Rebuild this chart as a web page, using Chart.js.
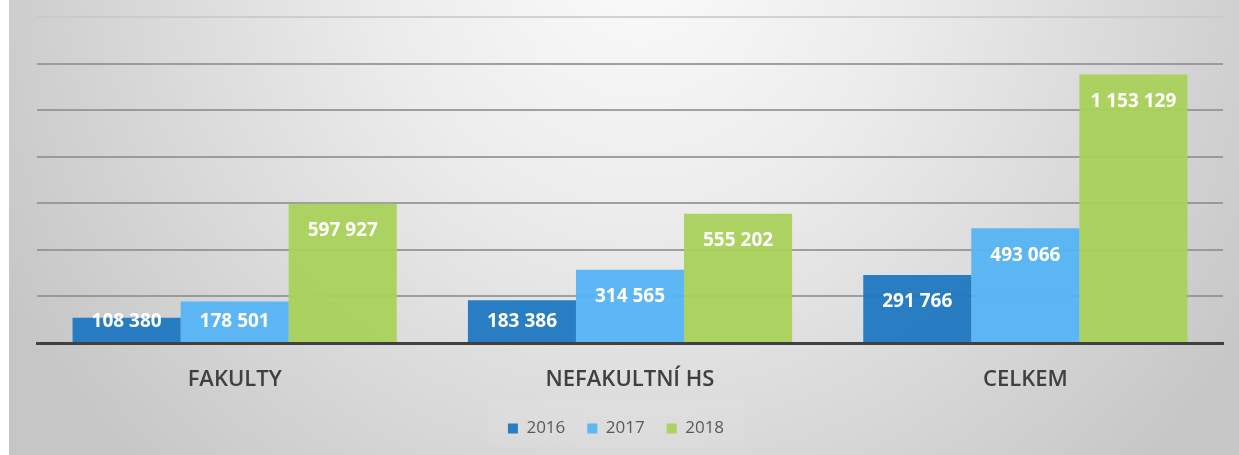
<!DOCTYPE html>
<html>
<head>
<meta charset="utf-8">
<script src="https://cdn.jsdelivr.net/npm/chart.js@4/dist/chart.umd.min.js"></script>
<style>
  html, body { margin: 0; padding: 0; background: #fff; }
  #wrap { width: 1239px; height: 455px; position: relative; }
</style>
</head>
<body>
<div id="wrap"><canvas id="c"></canvas></div>
<script>
// Data
const categories = ['FAKULTY', 'NEFAKULTNÍ HS', 'CELKEM'];
const years = ['2016', '2017', '2018'];
const values2016 = [108380, 183386, 291766];
const values2017 = [178501, 314565, 493066];
const values2018 = [597927, 555202, 1153129];
const seriesColors = ['rgba(31,120,193,0.95)', 'rgba(85,180,245,0.95)', 'rgba(169,209,90,0.95)'];

const fmt = v => String(v).replace(/\B(?=(\d{3})+(?!\d))/g, ' ');

// Grey radial background, white strip on the left
const backgroundPlugin = {
    id: 'bg',
    beforeDraw: (chart) => {
        const { ctx, width, height } = chart;
        ctx.save();
        ctx.fillStyle = '#ffffff';
        ctx.fillRect(0, 0, width, height);
        const g = ctx.createRadialGradient(640, -40, 10, 640, -40, 720);
        g.addColorStop(0, '#fafafa');
        g.addColorStop(0.35, '#ececec');
        g.addColorStop(1, '#c6c6c6');
        ctx.fillStyle = g;
        ctx.fillRect(9, 0, width - 9, height);
        // faint lighter box behind legend
        const lg = chart.legend;
        if (lg && lg.legendHitBoxes && lg.legendHitBoxes.length) {
            const hb = lg.legendHitBoxes;
            const x0 = hb[0].left - 20;
            const x1 = hb[hb.length - 1].left + hb[hb.length - 1].width + 20;
            ctx.fillStyle = 'rgba(255,255,255,0.07)';
            ctx.fillRect(x0, lg.top + 2, x1 - x0, lg.height - 2);
        }
        ctx.restore();
    }
};

// White value labels inside the top of each bar
const labelPlugin = {
    id: 'barLabels',
    afterDatasetsDraw: (chart) => {
        const { ctx, chartArea } = chart;
        ctx.save();
        ctx.font = 'bold 19px "Open Sans"';
        ctx.fillStyle = '#ffffff';
        ctx.textAlign = 'center';
        ctx.textBaseline = 'middle';
        chart.data.datasets.forEach((ds, di) => {
            const meta = chart.getDatasetMeta(di);
            meta.data.forEach((bar, i) => {
                const y = Math.min(bar.y + 27, chartArea.bottom - 21);
                ctx.fillText(fmt(ds.data[i]), bar.x, y);
            });
        });
        ctx.restore();
    }
};

new Chart(document.getElementById('c'), {
    type: 'bar',
    data: {
        labels: categories,
        datasets: [
            { label: years[0], data: values2016, backgroundColor: seriesColors[0] },
            { label: years[1], data: values2017, backgroundColor: seriesColors[1] },
            { label: years[2], data: values2018, backgroundColor: seriesColors[2] }
        ]
    },
    options: {
        responsive: true,
        maintainAspectRatio: false,
        animation: false,
        layout: { padding: { left: 9, right: 16, top: 17, bottom: 8 } },
        datasets: { bar: { categoryPercentage: 0.82, barPercentage: 1.0, borderWidth: 0 } },
        scales: {
            x: {
                grid: { display: false },
                border: { display: true, color: '#404040', width: 3 },
                ticks: {
                    color: '#404040',
                    font: { family: '"Open Sans"', size: 22, weight: '600' },
                    padding: 16
                },
                afterFit: (s) => { s.height = 55; }
            },
            y: {
                min: 0,
                max: 1400000,
                ticks: { display: false, stepSize: 200000 },
                border: { display: false },
                grid: {
                    color: (c) => c.index === 7 ? 'rgba(200,200,200,0.8)' : (c.index === 0 ? 'rgba(0,0,0,0)' : 'rgba(140,140,140,0.8)'),
                    lineWidth: 2,
                    drawTicks: false
                },
                afterFit: (s) => { s.width = 28; }
            }
        },
        plugins: {
            legend: {
                position: 'bottom',
                labels: {
                    boxWidth: 10,
                    boxHeight: 10,
                    padding: 22,
                    color: '#595959',
                    font: { family: '"Open Sans"', size: 17 }
                }
            },
            tooltip: { enabled: false }
        }
    },
    plugins: [backgroundPlugin, labelPlugin]
});
</script>
</body>
</html>
